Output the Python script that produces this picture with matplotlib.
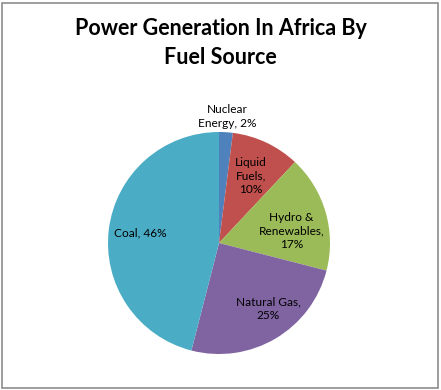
import numpy as np
import matplotlib
matplotlib.use("Agg")
import matplotlib.pyplot as plt
from matplotlib.patches import Rectangle

# Data
sources = ["Nuclear\nEnergy", "Liquid\nFuels", "Hydro &\nRenewables", "Natural Gas", "Coal"]
shares = [2, 10, 17, 25, 46]
colors = ["#4F81BD", "#C0504D", "#9BBB59", "#8064A2", "#4BACC6"]
# how the label text breaks before the percentage
pct_sep = [" ", "\n", "\n", "\n", " "]

# label distance from centre (fraction of radius) and small angle tweak (deg)
label_dist = [1.14, 0.67, 0.66, 0.74, 0.71]
label_tweak = [0, 0, -7, 6, 0]

plt.rcParams['font.family'] = ['Lato', 'DejaVu Sans']

W, H = 441, 390
fig = plt.figure(figsize=(W / 100, H / 100), dpi=100)
fig.patch.set_facecolor('white')

# pie axes: centre at pixel (219, 243), radius 111
cx, cy, r = 219, H - 243, 111
ax = fig.add_axes([(cx - r) / W, (cy - r) / H, 2 * r / W, 2 * r / H])
wedges, _ = ax.pie(shares, colors=colors, startangle=90, counterclock=False,
                   radius=1, wedgeprops={'linewidth': 0})
ax.set_xlim(-1, 1)
ax.set_ylim(-1, 1)
ax.set_aspect('equal')
ax.axis('off')

for w, name, pct, sep, d, t in zip(wedges, sources, shares, pct_sep, label_dist, label_tweak):
    ang = np.deg2rad((w.theta1 + w.theta2) / 2 + t)
    txt = "%s,%s%d%%" % (name, sep, pct)
    ax.text(d * np.cos(ang), d * np.sin(ang), txt, ha='center', va='center',
            fontsize=8.6, color='black', linespacing=1.3, clip_on=False)

fig.text(0.5, 1 - 43 / H, "Power Generation In Africa By\nFuel Source", ha='center',
         va='center', fontsize=15.5, fontweight='bold', linespacing=1.5)

# chart border
fig.patches.append(Rectangle((1.5 / W, 2.5 / H), 436.5 / W, 385 / H, transform=fig.transFigure,
                             fill=False, edgecolor='#8c8c8c', linewidth=1.2))

fig.savefig("out.png", dpi=100)
